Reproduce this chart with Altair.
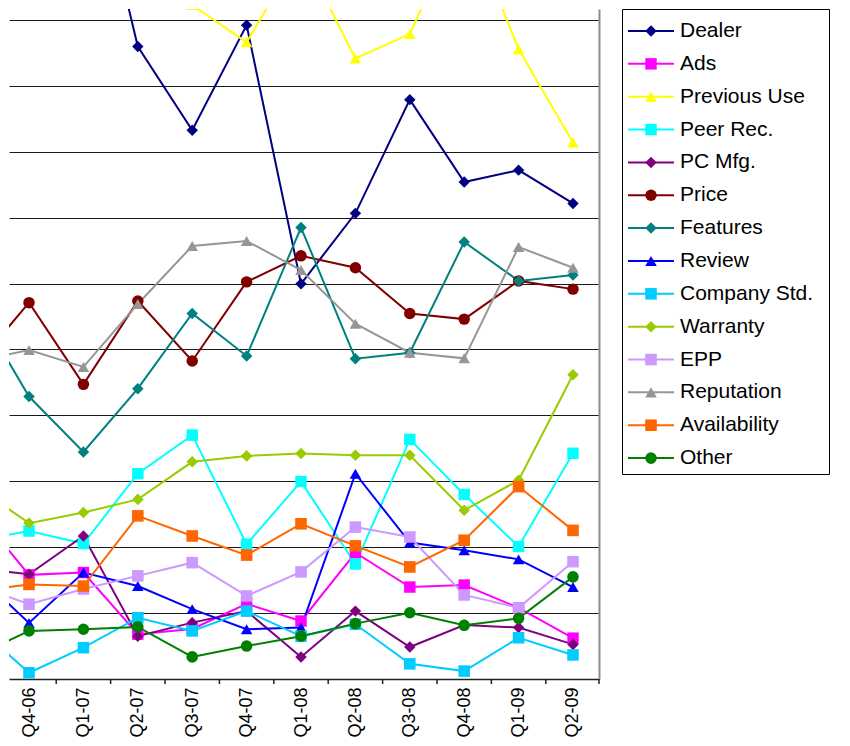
import altair as alt
import pandas as pd

quarters = ["Q3-06", "Q4-06", "Q1-07", "Q2-07", "Q3-07", "Q4-07", "Q1-08",
            "Q2-08", "Q3-08", "Q4-08", "Q1-09", "Q2-09"]

series_names = ["Dealer", "Ads", "Previous Use", "Peer Rec.", "PC Mfg.", "Price",
                "Features", "Review", "Company Std.", "Warranty", "EPP",
                "Reputation", "Availability", "Other"]

colors = ["#000080", "#FF00FF", "#FFFF00", "#00FFFF", "#800080", "#800000",
          "#008080", "#0000FF", "#00CCFF", "#99CC00", "#CC99FF", "#969696",
          "#FF6600", "#008000"]

shapes = ["diamond", "square", "triangle-up", "square", "diamond", "circle",
          "diamond", "triangle-up", "square", "diamond", "square",
          "triangle-up", "square", "circle"]

marker_sizes = [130, 135, 170, 135, 110, 150, 110, 170, 135, 110, 135, 170, 135, 150]

dealer = [25.0, 25.5, 26.1, 19.19, 16.65, 19.84, 11.99, 14.13, 17.58, 15.08, 15.44, 14.43]
ads = [5.16, 3.16, 3.23, 1.36, 1.52, 2.28, 1.76, 3.83, 2.79, 2.85, 2.16, 1.24]
previous_use = [22.0, 22.0, 22.0, 20.66, 20.45, 19.32, 22.1, 18.83, 19.57, 23.25, 19.11, 16.28]
peer_rec = [4.19, 4.49, 4.11, 6.23, 7.40, 4.09, 5.99, 3.49, 7.27, 5.60, 4.02, 6.85]
pc_mfg = [3.37, 3.18, 4.34, 1.30, 1.71, 2.06, 0.67, 2.06, 0.97, 1.64, 1.56, 1.05]
price = [9.46, 11.42, 8.94, 11.47, 9.65, 12.05, 12.84, 12.48, 11.09, 10.92, 12.08, 11.83]
features = [11.38, 8.57, 6.89, 8.81, 11.09, 9.80, 13.70, 9.72, 9.90, 13.26, 12.08, 12.26]
review = [3.25, 1.70, 3.23, 2.82, 2.12, 1.51, 1.56, 6.23, 4.14, 3.91, 3.63, 2.79]
company_std = [1.66, 0.19, 0.95, 1.86, 1.46, 2.06, 1.30, 1.66, 0.46, 0.24, 1.25, 0.73]
warranty = [5.87, 4.73, 5.05, 5.45, 6.59, 6.77, 6.84, 6.79, 6.79, 5.12, 6.03, 9.23]
epp = [2.86, 2.27, 2.73, 3.13, 3.53, 2.52, 3.25, 4.61, 4.31, 2.55, 2.16, 3.56]
reputation = [9.64, 9.98, 9.47, 11.38, 13.14, 13.29, 12.41, 10.78, 9.90, 9.73, 13.11, 12.48]
availability = [2.66, 2.87, 2.82, 4.95, 4.34, 3.76, 4.71, 4.04, 3.40, 4.21, 5.84, 4.51]
other = [0.67, 1.46, 1.51, 1.58, 0.67, 1.00, 1.30, 1.68, 2.01, 1.63, 1.84, 3.10]

all_values = [dealer, ads, previous_use, peer_rec, pc_mfg, price, features, review,
              company_std, warranty, epp, reputation, availability, other]

rows = []
for s, vals in zip(series_names, all_values):
    for i, (q, v) in enumerate(zip(quarters, vals)):
        rows.append({"series": s, "idx": i - 1, "quarter": q, "value": v})
df = pd.DataFrame(rows)

boundaries = pd.DataFrame({"idx": [k + 0.5 for k in range(10)] + [10.478]})

FONT = "Liberation Sans"
label_list = ",".join("'" + q + "'" for q in quarters[1:])
label_expr = "[" + label_list + "][datum.value]"

cscale = alt.Scale(domain=series_names, range=colors)
sscale = alt.Scale(domain=series_names, range=shapes)
zscale = alt.Scale(domain=series_names, range=marker_sizes)

x_enc = alt.X(
    "idx:Q",
    scale=alt.Scale(domain=[-0.368, 10.478], nice=False, zero=False),
    axis=alt.Axis(values=list(range(11)), labelExpr=label_expr, labelAngle=270,
                  ticks=False, grid=False, domainColor="#222222", domainWidth=1.5,
                  labelFont=FONT, labelFontSize=18, labelColor="black",
                  labelPadding=8, labelOverlap=False, title=None),
)
y_enc = alt.Y(
    "value:Q",
    scale=alt.Scale(domain=[0, 20.33], nice=False, zero=False),
    axis=alt.Axis(orient="right", values=[2, 4, 6, 8, 10, 12, 14, 16, 18, 20],
                  labels=False, ticks=False, grid=True, gridColor="#1a1a1a",
                  gridWidth=1.2, domainColor="#8c8c8c", domainWidth=2, title=None),
)

base = alt.Chart(df)
lines = base.mark_line(strokeWidth=2, clip=True).encode(
    x=x_enc, y=y_enc,
    color=alt.Color("series:N", scale=cscale, legend=None),
)
points = base.mark_point(filled=True, opacity=1, clip=True).encode(
    x=x_enc, y=y_enc,
    color=alt.Color("series:N", scale=cscale, legend=None),
    shape=alt.Shape("series:N", scale=sscale, legend=None),
    size=alt.Size("series:N", scale=zscale, legend=None),
)
ticks = alt.Chart(boundaries).mark_rule(color="#222222", strokeWidth=1.5, clip=False).encode(
    x=x_enc, y=alt.value(670), y2=alt.value(675),
)

main = alt.layer(lines, points, ticks).properties(
    width=590, height=670,
    view=alt.ViewBackground(stroke="transparent"),
)

leg_df = pd.DataFrame({"series": series_names, "row": list(range(len(series_names)))})
leg_y = alt.Y("row:Q", scale=alt.Scale(domain=[-0.67, 13.485], reverse=True,
                                        nice=False, zero=False), axis=None)
leg_base = alt.Chart(leg_df)
leg_lines = leg_base.mark_rule(strokeWidth=2).encode(
    x=alt.value(6), x2=alt.value(52), y=leg_y,
    color=alt.Color("series:N", scale=cscale, legend=None),
)
leg_points = leg_base.mark_point(filled=True, opacity=1).encode(
    x=alt.value(29), y=leg_y,
    color=alt.Color("series:N", scale=cscale, legend=None),
    shape=alt.Shape("series:N", scale=sscale, legend=None),
    size=alt.Size("series:N", scale=zscale, legend=None),
)
leg_text = leg_base.mark_text(align="left", baseline="middle", fontSize=21,
                              font=FONT, color="black").encode(
    x=alt.value(58), y=leg_y, text="series:N",
)
legend = alt.layer(leg_lines, leg_points, leg_text).properties(
    width=207, height=465,
    view=alt.ViewBackground(stroke="black", strokeWidth=1),
)

chart = alt.hconcat(main, legend, spacing=20).properties(
    padding=0, background="white"
)

chart.save("out.html", embed_options={"renderer": "svg", "actions": False})
